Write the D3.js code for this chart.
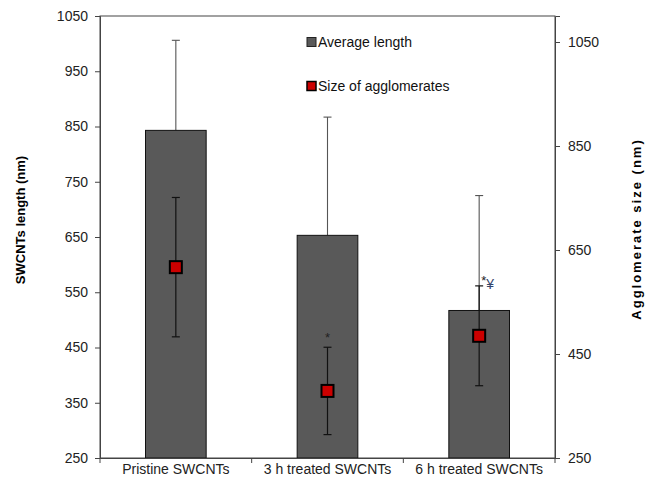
<!DOCTYPE html>
<html>
<head>
<meta charset="utf-8">
<script src="https://cdn.jsdelivr.net/npm/d3@7"></script>
<style>
  body { margin: 0; background: #fff; }
  text { font-family: "Liberation Sans", Arial, sans-serif; }
</style>
</head>
<body>
<div id="d3"></div>
<script>
const categories = ["Pristine SWCNTs", "3 h treated SWCNTs", "6 h treated SWCNTs"];
const avgLength = [843, 653, 517];
const avgLengthErr = [163, 214, 208];
const aggSize = [617, 379, 485];
const aggSizeErr = [134, 84, 96];
const marks = ["", "*", "*¥"];
const leftTicks = [250, 350, 450, 550, 650, 750, 850, 950, 1050];
const rightTicks = [250, 450, 650, 850, 1050];

function renderChart() {
  const width = 649;
  const height = 481;
  const margin = { top: 16, bottom: 23, left: 100, right: 94 };
  const w = width - margin.left - margin.right;
  const h = height - margin.top - margin.bottom;

  const svg = d3
    .select("#d3")
    .append("svg")
    .attr("width", width)
    .attr("height", height)
    .append("g")
    .attr("transform", `translate(${margin.left},${margin.top})`);

  const x = d3.scaleBand().domain(categories).range([0, w]);
  const y = d3.scaleLinear().domain([250, 1050]).range([h, 0]);
  const y2 = d3.scaleLinear().domain([250, 1100]).range([h, 0]);
  const barW = x.bandwidth() * 0.4;

  // plot frame
  svg
    .append("rect")
    .attr("x", 0)
    .attr("y", 0)
    .attr("width", w)
    .attr("height", h)
    .attr("fill", "none")
    .attr("stroke", "#444")
    .attr("stroke-width", 1);

  // bars' upper error bars
  const barErr = svg.append("g").attr("stroke", "#555").attr("stroke-width", 1.1);
  categories.forEach((c, i) => {
    const cx = x(c) + x.bandwidth() / 2;
    barErr
      .append("line")
      .attr("x1", cx)
      .attr("x2", cx)
      .attr("y1", y(avgLength[i]))
      .attr("y2", y(avgLength[i] + avgLengthErr[i]));
    barErr
      .append("line")
      .attr("x1", cx - 4)
      .attr("x2", cx + 4)
      .attr("y1", y(avgLength[i] + avgLengthErr[i]))
      .attr("y2", y(avgLength[i] + avgLengthErr[i]));
  });

  svg
    .selectAll("rect.bar")
    .data(categories)
    .enter()
    .append("rect")
    .attr("class", "bar")
    .attr("x", (d) => x(d) + (x.bandwidth() - barW) / 2)
    .attr("y", (d, i) => y(avgLength[i]))
    .attr("width", barW)
    .attr("height", (d, i) => h - y(avgLength[i]))
    .attr("fill", "#595959")
    .attr("stroke", "#111")
    .attr("stroke-width", 1);

  // agglomerate error bars + markers
  const aggErr = svg.append("g").attr("stroke", "#111").attr("stroke-width", 1.2);
  categories.forEach((c, i) => {
    const cx = x(c) + x.bandwidth() / 2;
    const top = y2(aggSize[i] + aggSizeErr[i]);
    const bot = y2(aggSize[i] - aggSizeErr[i]);
    aggErr.append("line").attr("x1", cx).attr("x2", cx).attr("y1", top).attr("y2", bot);
    aggErr.append("line").attr("x1", cx - 4).attr("x2", cx + 4).attr("y1", top).attr("y2", top);
    aggErr.append("line").attr("x1", cx - 4).attr("x2", cx + 4).attr("y1", bot).attr("y2", bot);
  });

  svg
    .selectAll("rect.agg")
    .data(categories)
    .enter()
    .append("rect")
    .attr("class", "agg")
    .attr("x", (d) => x(d) + x.bandwidth() / 2 - 6)
    .attr("y", (d, i) => y2(aggSize[i]) - 6)
    .attr("width", 12)
    .attr("height", 12)
    .attr("fill", "#cc0000")
    .attr("stroke", "#000")
    .attr("stroke-width", 2);

  // significance marks
  categories.forEach((c, i) => {
    if (!marks[i]) return;
    const cx = x(c) + x.bandwidth() / 2;
    const wide = marks[i].length > 1;
    const t = svg
      .append("text")
      .attr("x", wide ? cx + 2 : cx)
      .attr("y", y2(aggSize[i] + aggSizeErr[i]) + (wide ? 2 : -5))
      .attr("text-anchor", wide ? "start" : "middle")
      .attr("fill", "#222");
    t.append("tspan").attr("font-size", 13).attr("dy", wide ? -3 : 0).text("*");
    if (wide) {
      t.append("tspan").attr("font-size", 14).attr("dy", 4).attr("fill", "#34456a").text(marks[i].slice(1));
    }
  });

  // axes
  const xAxis = svg
    .append("g")
    .attr("transform", `translate(0,${h})`)
    .call(d3.axisBottom(x).tickSize(0).tickPadding(6));
  xAxis.select(".domain").attr("stroke", "#444");
  xAxis.selectAll("text").style("font-size", "14px").attr("fill", "#222");
  const bounds = [0, w / 3, (2 * w) / 3, w];
  xAxis
    .selectAll("line.bnd")
    .data(bounds)
    .enter()
    .append("line")
    .attr("class", "bnd")
    .attr("x1", (d) => d)
    .attr("x2", (d) => d)
    .attr("y1", 0)
    .attr("y2", 5)
    .attr("stroke", "#444");

  const yAxis = svg
    .append("g")
    .call(d3.axisLeft(y).tickValues(leftTicks).tickFormat(d3.format("d")).tickSize(5).tickPadding(7));
  yAxis.selectAll("path, line").attr("stroke", "#444");
  yAxis.selectAll("text").style("font-size", "14px").attr("fill", "#222");

  const yAxis2 = svg
    .append("g")
    .attr("transform", `translate(${w},0)`)
    .call(d3.axisRight(y2).tickValues(rightTicks).tickFormat(d3.format("d")).tickSize(5).tickPadding(8));
  yAxis2.selectAll("path, line").attr("stroke", "#444");
  yAxis2.selectAll("text").style("font-size", "14px").attr("fill", "#222");

  // axis titles
  svg
    .append("text")
    .attr("transform", `translate(${-75},${h / 2 - 17}) rotate(-90)`)
    .attr("text-anchor", "middle")
    .style("font-size", "13px")
    .style("font-weight", "bold")
    .text("SWCNTs length (nm)");

  svg
    .append("text")
    .attr("transform", `translate(${w + 86},${h / 2 - 8}) rotate(-90)`)
    .attr("text-anchor", "middle")
    .style("font-size", "13px")
    .style("font-weight", "bold")
    .style("letter-spacing", "2px")
    .text("Agglomerate size (nm)");

  // legend
  const legend = svg.append("g").attr("transform", "translate(207,26)");
  const items = [
    { label: "Average length", fill: "#595959", stroke: "#222", sw: 1 },
    { label: "Size of agglomerates", fill: "#cc0000", stroke: "#000", sw: 1.5 },
  ];
  items.forEach((d, i) => {
    const g = legend.append("g").attr("transform", `translate(0,${i * 44})`);
    g.append("rect")
      .attr("x", 0)
      .attr("y", -4.5)
      .attr("width", 9)
      .attr("height", 9)
      .attr("fill", d.fill)
      .attr("stroke", d.stroke)
      .attr("stroke-width", d.sw);
    g.append("text")
      .attr("x", 11)
      .attr("y", 5)
      .style("font-size", "14px")
      .attr("fill", "#111")
      .text(d.label);
  });
}

renderChart();
</script>
</body>
</html>
